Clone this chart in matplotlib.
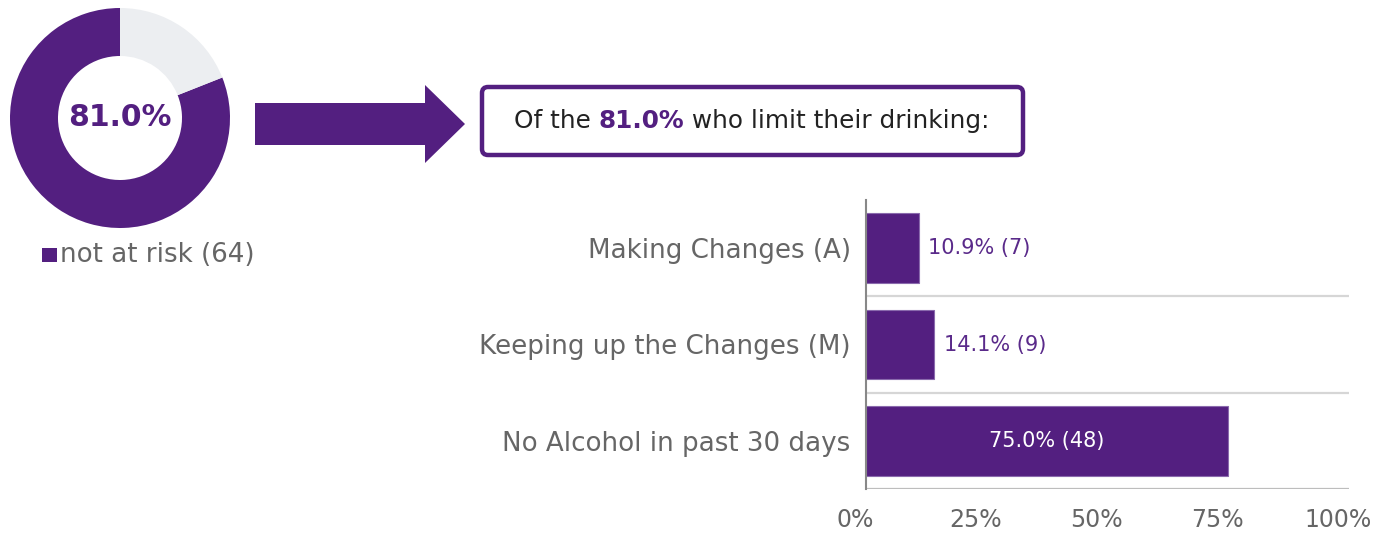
import matplotlib
matplotlib.use("Agg")
import matplotlib.pyplot as plt
from matplotlib.patches import FancyBboxPatch, Polygon
from matplotlib.transforms import ScaledTranslation

# ---- data ----
donut_share = [81.0, 19.0]
donut_label = "not at risk (64)"
donut_center = "81.0%"
box_pieces = ["Of the ", "81.0%", " who limit their drinking:"]
categories = ["Making Changes (A)", "Keeping up the Changes (M)", "No Alcohol in past 30 days"]
percents = [10.9, 14.1, 75.0]
counts = [7, 9, 48]
xticks = [0, 25, 50, 75, 100]
xticklabels = ["0%", "25%", "50%", "75%", "100%"]

PURPLE = "#531f80"
LABEL_PURPLE = "#5a2a8a"
GREY_TXT = "#666666"
FONT = "DejaVu Sans"
plt.rcParams["font.family"] = [FONT]

W, H = 1390, 535
fig = plt.figure(figsize=(W / 100, H / 100), dpi=100)

# ---- overlay axes (pixel coords) ----
ov = fig.add_axes([0, 0, 1, 1])
ov.set_xlim(0, W)
ov.set_ylim(H, 0)
ov.axis("off")

# arrow
arrow = Polygon([(255, 103), (425, 103), (425, 85), (465, 124), (425, 163), (425, 145), (255, 145)],
                closed=True, facecolor=PURPLE, edgecolor="none")
ov.add_patch(arrow)

# rounded box
box = FancyBboxPatch((482, 87), 541, 68, boxstyle="round,pad=0,rounding_size=6",
                     facecolor="white", edgecolor=PURPLE, linewidth=3.2)
ov.add_patch(box)

# box text (mixed weight)
fig.canvas.draw()
r = fig.canvas.get_renderer()
fs_box = 17.8
styles = [("#222222", "normal"), (PURPLE, "bold"), ("#222222", "normal")]
texts = []
for piece, (c, w) in zip(box_pieces, styles):
    t = ov.text(0, 121, piece, color=c, fontweight=w, fontsize=fs_box, va="center", ha="left")
    texts.append(t)
widths = [t.get_window_extent(r).width for t in texts]
total = sum(widths)
x0 = 752 - total / 2
for t, wd in zip(texts, widths):
    t.set_x(x0)
    x0 += wd

# ---- donut ----
dax = fig.add_axes([10 / W, (H - 118 - 110) / H, 220 / W, 220 / H])
dax.pie(donut_share, colors=[PURPLE, "#eceef1"], startangle=90, counterclock=True,
        radius=1, wedgeprops=dict(width=48 / 110, edgecolor="none"))
dax.set_xlim(-1, 1)
dax.set_ylim(-1, 1)
dax.text(0, 0, donut_center, ha="center", va="center", fontsize=21.5, fontweight="bold", color=PURPLE)

# legend
ov.add_patch(plt.Rectangle((42, 248), 15, 14, facecolor=PURPLE, edgecolor="none"))
ov.text(60, 255, donut_label, fontsize=18.8, color=GREY_TXT, va="center", ha="left")

# ---- bar chart ----
ax = fig.add_axes([866 / W, 46 / H, 483 / W, 289 / H])
y = list(range(len(categories)))
ax.barh(y, percents, height=0.72, color=PURPLE, edgecolor="#8a6aad", linewidth=0.8)
ax.set_xlim(0, 100)
ax.set_ylim(2.5, -0.5)
ax.set_yticks(y)
ax.set_yticklabels(categories, fontsize=18.8, color=GREY_TXT)
ax.set_xticks(xticks)
ax.set_xticklabels(xticklabels, fontsize=17, color=GREY_TXT)
ax.tick_params(axis="both", length=0)
ax.tick_params(axis="y", pad=11)
ax.tick_params(axis="x", pad=14)
for lab in ax.get_xticklabels():
    lab.set_transform(lab.get_transform() + ScaledTranslation(-0.11, 0, fig.dpi_scale_trans))
for s in ["top", "right", "bottom"]:
    ax.spines[s].set_visible(False)
ax.spines["left"].set_color("#888888")
ax.spines["left"].set_linewidth(1.5)
for g, col in zip([0.5, 1.5, 2.5], ["#d6d6d6", "#d6d6d6", "#bdbdbd"]):
    ax.axhline(g, xmin=0.005, xmax=1, color=col, linewidth=1.6, zorder=0)

for yi, p, c in zip(y, percents, counts):
    lbl = f"{p:.1f}% ({c})"
    if p > 40:
        ax.text(p / 2, yi, lbl, ha="center", va="center", color="white", fontsize=15)
    else:
        ax.text(p + 2, yi, lbl, ha="left", va="center", color=LABEL_PURPLE, fontsize=15)

fig.savefig("out.png", dpi=100)
